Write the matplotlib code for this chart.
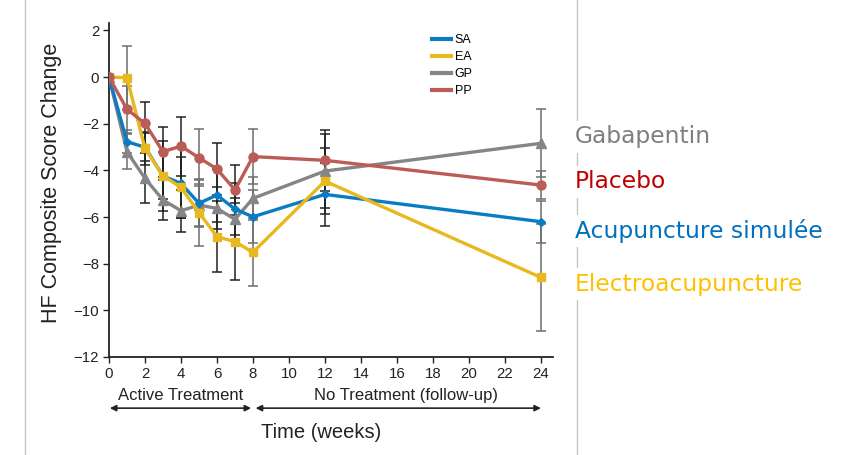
import numpy as np
import matplotlib
matplotlib.use("Agg")
import matplotlib.pyplot as plt
from matplotlib.lines import Line2D

plt.rcParams['font.family'] = ['Liberation Sans', 'DejaVu Sans']

# Weeks of measurement
weeks = [0, 1, 2, 3, 4, 5, 6, 7, 8, 12, 24]

# Mean change in HF composite score
sa = [0, -2.77, -3.01, -4.24, -4.56, -5.41, -5.06, -5.66, -5.99, -5.03, -6.20]
ea = [0, -0.03, -3.06, -4.23, -4.73, -5.81, -6.84, -7.06, -7.51, -4.46, -8.59]
gp = [0, -3.20, -4.34, -5.27, -5.73, -5.49, -5.63, -6.10, -5.20, -4.03, -2.84]
pp = [0, -1.38, -1.99, -3.20, -2.96, -3.46, -3.94, -4.84, -3.41, -3.57, -4.63]

# error bar half widths
sa_err = [0, 0.50, 0.60, 1.50, 1.50, 1.00, 1.14, 1.10, 1.14, 1.36, 0.90]
ea_err = [0, 1.37, 0.70, 1.00, 1.30, 1.43, 1.53, 1.64, 1.45, 1.40, 2.30]
gp_err = [0, 0.76, 1.07, 0.86, 0.90, 0.90, 0.90, 0.90, 0.93, 1.59, 1.45]
pp_err = [0, 1.00, 0.93, 1.07, 1.26, 1.22, 1.10, 1.07, 1.18, 1.30, 0.60]

# error bar colour per week (alternating grey/black in source)
bar_dark = [True, False, True, True, True, False, True, True, False, True, False]

names = ['SA', 'EA', 'GP', 'PP']
colors = {'SA': '#0a7cc3', 'EA': '#e8b820', 'GP': '#858588', 'PP': '#bb5c56'}
markers = {'SA': 'D', 'EA': 's', 'GP': '^', 'PP': 'o'}
msizes = {'SA': 4.5, 'EA': 6, 'GP': 7, 'PP': 6.5}
data = {'SA': (sa, sa_err), 'EA': (ea, ea_err), 'GP': (gp, gp_err), 'PP': (pp, pp_err)}

side_labels = ['Gabapentin', 'Placebo', 'Acupuncture simulée', 'Electroacupuncture']
side_colors = ['#7f7f7f', '#c00000', '#0070c0', '#ffc000']

fig = plt.figure(figsize=(8.48, 4.55), dpi=100)
ax = fig.add_axes([0.1285, 0.2154, 0.5236, 0.7347])

# error bars first (under the lines)
for name in names:
    y, e = data[name]
    for i in range(1, len(weeks)):
        c = '#222222' if bar_dark[i] else '#6e6e6e'
        ax.errorbar(weeks[i], y[i], yerr=e[i], fmt='none', ecolor=c,
                    elinewidth=1.1, capsize=3.6, capthick=1.1, zorder=1)

for name in ['GP', 'SA', 'EA', 'PP']:
    y, e = data[name]
    ax.plot(weeks, y, color=colors[name], lw=2.4, marker=markers[name],
            ms=msizes[name], mec=colors[name], zorder=3)

ax.set_xlim(0, 24.67)
ax.set_ylim(-12, 2.33)
ax.set_xticks(np.arange(0, 25, 2))
ax.set_yticks(np.arange(-12, 3, 2))
for s in ['top', 'right']:
    ax.spines[s].set_visible(False)
for s in ['left', 'bottom']:
    ax.spines[s].set_linewidth(1.3)
    ax.spines[s].set_color('#222222')
ax.tick_params(direction='out', length=4, width=1, labelsize=10.8,
               colors='#222222', pad=3)

ax.set_ylabel('HF Composite Score Change', fontsize=15.5, color='#222222')
ax.yaxis.set_label_coords(-0.106, 0.52)

# legend with line handles only
handles = [Line2D([0], [0], color=colors[n], lw=3) for n in names]
ax.legend(handles, names, loc='upper left', bbox_to_anchor=(0.703, 1.0),
          frameon=False, fontsize=9, handlelength=1.5, handletextpad=0.3,
          labelspacing=0.4)

# treatment phase annotations under the x axis
tr = ax.get_xaxis_transform()
ax.text(4, -0.114, 'Active Treatment', transform=tr, ha='center', va='center',
        fontsize=12, color='#222222')
ax.text(16.5, -0.114, 'No Treatment (follow-up)', transform=tr, ha='center',
        va='center', fontsize=12, color='#222222')
arrow = dict(arrowstyle='<|-|>', color='#222222', lw=1.2, mutation_scale=9,
             shrinkA=0, shrinkB=0)
ax.annotate('', xy=(0.05, -0.153), xytext=(7.9, -0.153), xycoords=tr,
            textcoords=tr, arrowprops=arrow, annotation_clip=False)
ax.annotate('', xy=(8.15, -0.153), xytext=(24.0, -0.153), xycoords=tr,
            textcoords=tr, arrowprops=arrow, annotation_clip=False)
ax.text(11.8, -0.227, 'Time (weeks)', transform=tr, ha='center', va='center',
        fontsize=14.5, color='#222222')

# frame of the pasted chart
fig.add_artist(Line2D([25 / 848, 25 / 848], [0, 1], color='#c4c4c4', lw=1))
fig.add_artist(Line2D([577 / 848, 577 / 848], [0, 1], color='#c4c4c4', lw=1))

# slide labels on the right
label_y = [137, 182, 231, 284]
for lab, c, yy in zip(side_labels, side_colors, label_y):
    fig.text(575 / 848, 1 - yy / 455, lab, color=c, fontsize=16.8,
             family='DejaVu Sans', ha='left', va='center',
             bbox=dict(facecolor='white', edgecolor='none', pad=3))

fig.savefig('out.png', dpi=100)
